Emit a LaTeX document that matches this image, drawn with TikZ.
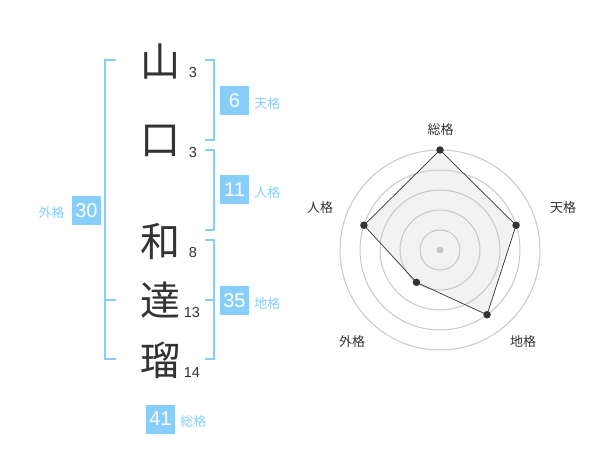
\documentclass[tikz,border=0pt]{standalone}
\usepackage{fontspec}
\setmainfont{Liberation Sans}
\newfontfamily\jp{Noto Sans CJK JP}
\usetikzlibrary{positioning}

\definecolor{skyblue}{HTML}{87CEFA}
\definecolor{ink}{HTML}{333333}
\definecolor{ring}{HTML}{C8C8C8}
\definecolor{area}{HTML}{F2F2F2}

\tikzset{
  kanji/.style={inner sep=0pt, text=ink, font=\jp\fontsize{40}{40}\selectfont},
  strokes/.style={inner sep=0pt, text=ink, font=\fontsize{14.5}{14.5}\selectfont},
  kakubox/.style={fill=skyblue, text=white, inner sep=0pt, minimum size=29pt, font=\fontsize{20}{20}\selectfont},
  kakulbl/.style={inner sep=0pt, text=skyblue, font=\jp\fontsize{13}{13}\selectfont},
  brace/.style={draw=skyblue, line width=1.5pt},
  axislbl/.style={inner sep=0pt, text=ink, font=\jp\fontsize{13}{13}\selectfont},
  dot/.style={circle, fill=ink, inner sep=0pt, minimum size=7.5pt},
}

\begin{document}
\begin{tikzpicture}[x=1pt, y=-1pt]
  \useasboundingbox (0,0) rectangle (600,470);

  % name
  \node[kanji] (k1) at (160,61) {山};
  \node[kanji] (k2) at (160,141) {口};
  \node[kanji] (k3) at (160,241) {和};
  \node[kanji] (k4) at (160,300) {達};
  \node[kanji] (k5) at (160,360) {瑠};

  \node[strokes] (s1) at (193,73) {3};
  \node[strokes] (s2) at (193,153) {3};
  \node[strokes] (s3) at (193,253) {8};
  \node[strokes] (s4) at (192,313) {13};
  \node[strokes] (s5) at (192,373) {14};

  % brackets
  \draw[brace] (116,60) -- (105,60) -- (105,359) -- (116,359);
  \draw[brace] (105,300) -- (116,300);
  \draw[brace] (205,60) -- (214,60) -- (214,140) -- (205,140);
  \draw[brace] (205,150) -- (214,150) -- (214,230) -- (205,230);
  \draw[brace] (205,240) -- (214,240) -- (214,359) -- (205,359);
  \draw[brace] (205,300) -- (214,300);

  % boxes
  \node[kakubox] (gai) at (86.5,211) {30};
  \node[kakubox] (ten) at (234.5,101) {6};
  \node[kakubox] (jin) at (234.5,190) {11};
  \node[kakubox] (chi) at (234.5,300.5) {35};
  \node[kakubox] (sou) at (160.5,419) {41};

  \node[kakulbl, left=7pt of gai, yshift=-2pt] {外格};
  \node[kakulbl, right=5pt of ten, yshift=-3pt] {天格};
  \node[kakulbl, right=5pt of jin, yshift=-3pt] {人格};
  \node[kakulbl, right=5pt of chi, yshift=-3pt] {地格};
  \node[kakulbl, right=5pt of sou, yshift=-3pt] {総格};

  % radar
  \begin{scope}[shift={(440,250)}, y=1pt]
    \coordinate (c) at (0,0);
    \coordinate (p1) at (90:100);
    \coordinate (p2) at (18:80);
    \coordinate (p3) at (-54:80);
    \coordinate (p4) at (-126:40);
    \coordinate (p5) at (162:80);

    \fill[area] (p1) -- (p2) -- (p3) -- (p4) -- (p5) -- cycle;
    \foreach \r in {20,40,60,80,100}
      \draw[ring, line width=1pt] (c) circle (\r);
    \draw[ink, line width=0.7pt] (p1) -- (p2) -- (p3) -- (p4) -- (p5) -- cycle;
    \foreach \p in {p1,p2,p3,p4,p5}
      \node[dot] at (\p) {};
    \node[circle, fill=ring, inner sep=0pt, minimum size=7pt] at (c) {};

    \node[axislbl] (sougaku) at (0.7,120) {総格};
    \node[axislbl] (tengaku) at (123,42) {天格};
    \node[axislbl] (jingaku) at (-120,42) {人格};
    \node[axislbl] (gaigaku) at (-88,-92) {外格};
    \node[axislbl] (chigaku) at (83,-92) {地格};
  \end{scope}
\end{tikzpicture}
\end{document}
